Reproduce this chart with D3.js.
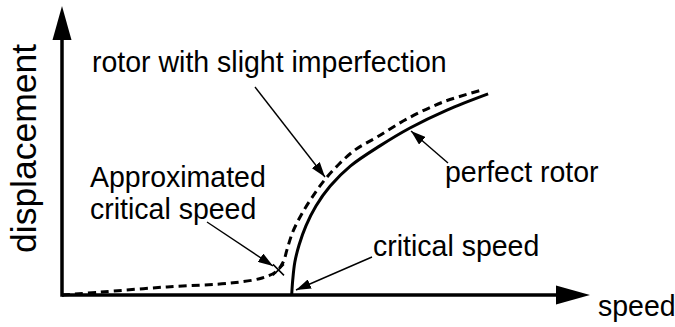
<!DOCTYPE html>
<html>
<head>
<meta charset="utf-8">
<script src="https://cdn.jsdelivr.net/npm/d3@7"></script>
<style>
  html, body { margin: 0; padding: 0; background: #fff; }
  svg { display: block; }
  text { font-family: "Liberation Sans", Arial, Helvetica, sans-serif; fill: #000; }
</style>
</head>
<body>
<div id="chart"></div>
<script>
// ---- data (speed / displacement in arbitrary units) ----
const perfectSpeed = [4.35, 4.37, 4.41, 4.49, 4.62, 4.81, 5.08, 5.46, 6.02, 6.59, 7.29, 8.07];
const perfectDisp  = [0.00, 0.52, 1.14, 1.73, 2.39, 3.08, 3.77, 4.46, 5.16, 5.78, 6.40, 6.96];

const imperfectSpeed = [0.00, 0.72, 1.99, 3.24, 3.79, 4.05, 4.19, 4.26, 4.37, 4.53, 4.73, 4.96, 5.23, 5.55, 5.97, 6.53, 7.22, 7.95];
const imperfectDisp  = [0.00, 0.10, 0.28, 0.42, 0.59, 0.80, 1.14, 1.56, 2.18, 2.77, 3.36, 3.95, 4.50, 5.02, 5.47, 6.09, 6.68, 7.09];

const approxCritical = { speed: 4.10, disp: 0.87 };
const criticalSpeed = 4.35;

const axisLabels = { x: "speed", y: "displacement" };
const labelTexts = ["rotor with slight imperfection", "perfect rotor", "Approximated", "critical speed", "critical speed"];

// ---- layout ----
const W = 675, H = 327;
const svg = d3.select("#chart").append("svg").attr("width", W).attr("height", H);

const x = d3.scaleLinear().domain([0, 10]).range([62, 590]);
const y = d3.scaleLinear().domain([0, 10]).range([295, 6]);

const defs = svg.append("defs");
defs.append("marker")
  .attr("id", "ah").attr("viewBox", "0 0 15 10").attr("refX", 15).attr("refY", 5)
  .attr("markerUnits", "userSpaceOnUse").attr("markerWidth", 15).attr("markerHeight", 10)
  .attr("orient", "auto")
  .append("path").attr("d", "M0,0 L15,5 L0,10 Z").attr("fill", "#000");

// ---- axes with big arrow heads ----
const axisW = 3.5;
const headLen = 34, headHalf = 9.5;
svg.append("line")
  .attr("x1", x(0)).attr("y1", y(0)).attr("x2", x(10) - headLen + 2).attr("y2", y(0))
  .attr("stroke", "#000").attr("stroke-width", axisW);
svg.append("path")
  .attr("d", `M${x(10)},${y(0)} L${x(10) - headLen},${y(0) - headHalf} L${x(10) - headLen},${y(0) + headHalf} Z`)
  .attr("fill", "#000");
svg.append("line")
  .attr("x1", x(0)).attr("y1", y(0) + axisW / 2).attr("x2", x(0)).attr("y2", y(10) + headLen - 2)
  .attr("stroke", "#000").attr("stroke-width", axisW);
svg.append("path")
  .attr("d", `M${x(0)},${y(10)} L${x(0) - headHalf},${y(10) + headLen} L${x(0) + headHalf},${y(10) + headLen} Z`)
  .attr("fill", "#000");

// ---- curves ----
const line = d3.line().x(d => x(d[0])).y(d => y(d[1])).curve(d3.curveCatmullRom.alpha(0.5));

svg.append("path")
  .datum(imperfectSpeed.map((s, i) => [s, imperfectDisp[i]]))
  .attr("d", line)
  .attr("fill", "none").attr("stroke", "#000").attr("stroke-width", 3)
  .attr("stroke-dasharray", "8,5");

svg.append("path")
  .datum(perfectSpeed.map((s, i) => [s, perfectDisp[i]]))
  .attr("d", line)
  .attr("fill", "none").attr("stroke", "#000").attr("stroke-width", 3);

// X marker for approximated critical speed
const cx = x(approxCritical.speed), cy = y(approxCritical.disp), r = 5.5;
svg.append("path")
  .attr("d", `M${cx - r},${cy - r} L${cx + r},${cy + r} M${cx - r},${cy + r} L${cx + r},${cy - r}`)
  .attr("stroke", "#000").attr("stroke-width", 1.5).attr("fill", "none");

// ---- annotation arrows ----
const arrows = [
  { from: [255, 87], to: [325, 177] },
  { from: [448, 163], to: [411, 131] },
  { from: [207, 222], to: [273, 266] },
  { from: [372, 257], to: [296, 290] }
];
svg.selectAll("line.ann").data(arrows).enter().append("line")
  .attr("class", "ann")
  .attr("x1", d => d.from[0]).attr("y1", d => d.from[1])
  .attr("x2", d => d.to[0]).attr("y2", d => d.to[1])
  .attr("stroke", "#000").attr("stroke-width", 1.4)
  .attr("marker-end", "url(#ah)");

// ---- texts ----
const fs = 28.5, vs = 1.06;
const texts = [
  { t: labelTexts[0], x: 92, y: 72 },
  { t: labelTexts[1], x: 445, y: 182 },
  { t: labelTexts[2], x: 90, y: 187 },
  { t: labelTexts[3], x: 90, y: 219 },
  { t: labelTexts[4], x: 373, y: 256 },
  { t: axisLabels.x, x: 598, y: 316 }
];
svg.selectAll("text.lbl").data(texts).enter().append("text")
  .attr("class", "lbl")
  .attr("transform", d => `translate(${d.x},${d.y}) scale(1,${vs})`)
  .attr("font-size", fs)
  .text(d => d.t);

svg.append("text")
  .attr("transform", "translate(36,253) rotate(-90)")
  .attr("font-size", 35.5)
  .text(axisLabels.y);
</script>
</body>
</html>
